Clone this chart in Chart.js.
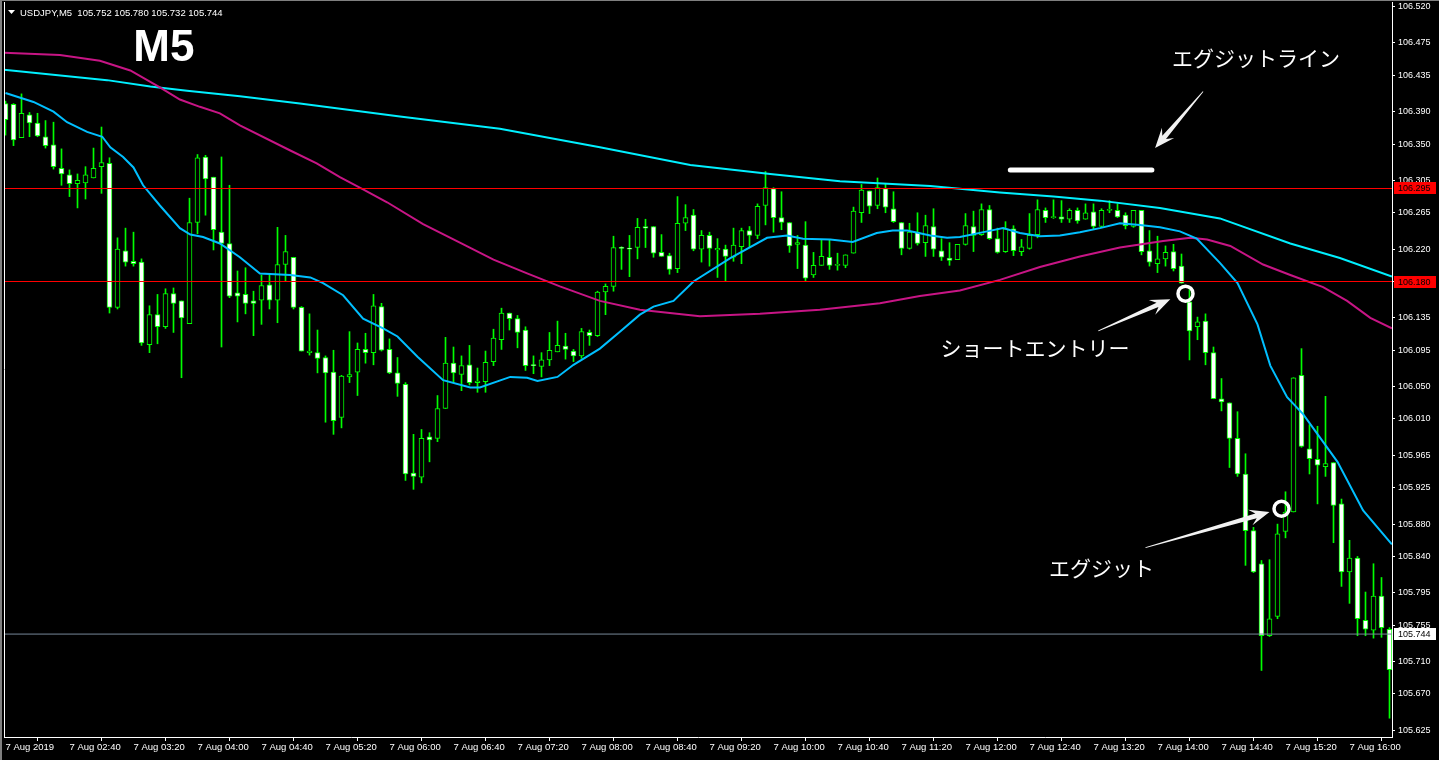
<!DOCTYPE html>
<html><head><meta charset="utf-8">
<script src="https://cdn.jsdelivr.net/npm/chart.js@4/dist/chart.umd.min.js"></script>
<style>html,body{margin:0;padding:0;background:#000;overflow:hidden}canvas{display:block}</style>
</head><body>
<canvas id="c" width="1439" height="760" style="width:1439px;height:760px"></canvas>
<script>
// ---- DATA ----
const SYMBOL_HEADER = 'USDJPY,M5  105.752 105.780 105.732 105.744';
const OPEN = [
106.400,106.399,106.358,106.386,106.376,106.359,106.349,106.320,106.312,106.301,
106.302,106.308,106.322,106.326,106.148,106.218,106.205,106.204,106.102,106.139,
106.124,106.165,106.156,106.128,106.253,106.334,106.309,106.241,106.227,106.166,
106.164,106.156,106.157,106.176,106.157,106.201,106.210,106.148,106.092,106.092,
106.086,106.068,106.012,106.062,106.068,106.096,106.092,106.149,106.096,106.067,
106.053,105.943,105.938,105.988,105.986,106.023,106.079,106.065,106.077,106.055,
106.056,106.081,106.108,106.141,106.134,106.120,106.077,106.075,106.083,106.093,
106.100,106.094,106.088,106.117,106.113,106.167,106.174,106.222,106.221,106.222,
106.248,106.248,106.216,106.212,106.196,106.252,106.262,106.220,106.237,106.219,
106.220,106.210,106.223,106.243,106.237,106.274,106.295,106.259,106.253,106.226,
106.225,106.188,106.200,106.210,106.200,106.200,106.215,106.265,106.292,106.274,
106.295,106.270,106.253,106.221,106.241,106.228,106.248,106.218,106.209,106.207,
106.226,106.248,106.238,106.269,106.233,106.217,106.245,106.217,106.221,106.238,
106.268,106.259,106.260,106.257,106.268,106.257,106.266,106.248,106.268,106.268,
106.262,106.248,106.268,106.218,106.202,106.208,106.217,106.199,106.155,106.124,
106.131,106.092,106.035,106.030,105.986,105.942,105.872,105.831,105.742,105.766,
105.871,105.895,106.064,105.973,105.960,105.951,105.956,105.905,105.821,105.838,
105.761,105.749,105.791,105.750];
const HIGH = [
106.403,106.400,106.412,106.389,106.388,106.379,106.377,106.344,106.318,106.313,
106.322,106.345,106.371,106.333,106.234,106.246,106.241,106.208,106.150,106.164,
106.171,106.172,106.156,106.283,106.337,106.336,106.309,106.334,106.299,106.193,
106.197,106.168,106.188,106.188,106.247,106.237,106.210,106.149,106.140,106.120,
106.088,106.095,106.064,106.118,106.104,106.116,106.164,106.153,106.109,106.086,
106.055,105.991,105.997,105.993,106.039,106.111,106.099,106.088,106.101,106.073,
106.094,106.121,106.147,106.141,106.138,106.124,106.088,106.092,106.117,106.131,
106.116,106.096,106.122,106.120,106.168,106.177,106.236,106.223,106.237,106.258,
106.257,106.248,106.238,106.215,106.285,106.275,106.269,106.243,106.241,106.233,
106.225,106.246,106.246,106.248,106.276,106.316,106.296,106.291,106.253,106.237,
106.254,106.216,106.232,106.232,106.215,106.213,106.272,106.300,106.292,106.308,
106.301,106.291,106.253,106.252,106.265,106.262,106.270,106.233,106.228,106.226,
106.264,106.267,106.276,106.274,106.246,106.254,106.249,106.232,106.264,106.281,
106.271,106.281,106.280,106.270,106.271,106.276,106.276,106.270,106.280,106.276,
106.265,106.268,106.268,106.243,106.236,106.224,106.226,106.214,106.170,106.136,
106.140,106.099,106.060,106.030,106.019,105.967,105.876,105.835,105.836,105.880,
105.920,106.061,106.097,106.003,106.001,106.038,105.956,105.911,105.860,105.840,
105.796,105.831,105.814,105.752];
const LOW = [
106.361,106.348,106.358,106.359,106.359,106.345,106.319,106.299,106.285,106.271,
106.282,106.308,106.289,106.141,106.146,106.199,106.199,106.101,106.092,106.103,
106.122,106.117,106.061,106.128,106.239,106.262,106.219,106.099,106.160,106.130,
106.140,106.113,106.127,106.146,106.129,106.180,106.146,106.094,106.089,106.067,
106.006,105.991,105.999,106.055,106.039,106.079,106.077,106.094,106.066,106.038,
105.934,105.923,105.931,105.957,105.982,106.023,106.055,106.045,106.052,106.043,
106.043,106.076,106.096,106.120,106.098,106.070,106.066,106.062,106.076,106.093,
106.084,106.081,106.085,106.101,106.112,106.139,106.168,106.195,106.186,106.208,
106.222,106.210,106.211,106.189,106.191,106.243,106.218,106.204,106.199,106.185,
106.180,106.205,106.202,106.222,106.233,106.250,106.241,106.244,106.216,106.196,
106.180,106.185,106.200,106.195,106.194,106.197,106.215,106.253,106.264,106.270,
106.265,106.253,106.213,106.220,106.225,106.211,106.211,106.206,106.200,106.207,
106.225,106.217,106.237,106.232,106.215,106.216,106.212,106.212,106.220,106.234,
106.253,106.258,106.253,106.253,106.252,106.257,106.245,106.247,106.265,106.259,
106.245,106.247,106.213,106.199,106.191,106.199,106.193,106.178,106.083,106.108,
106.077,106.035,106.020,105.950,105.939,105.829,105.820,105.699,105.741,105.763,
105.863,105.895,105.975,105.942,105.905,105.939,105.857,105.803,105.782,105.742,
105.742,105.739,105.740,105.640];
const CLOSE = [
106.380,106.355,106.388,106.376,106.360,106.348,106.322,106.313,106.301,106.305,
106.312,106.320,106.327,106.148,106.220,106.204,106.202,106.104,106.139,106.124,
106.165,106.153,106.135,106.253,106.333,106.307,106.244,106.227,106.162,106.162,
106.153,106.153,106.175,106.157,106.201,106.217,106.148,106.094,106.094,106.085,
106.067,106.008,106.063,106.065,106.096,106.092,106.150,106.095,106.067,106.054,
105.942,105.939,105.986,105.984,106.023,106.079,106.067,106.076,106.055,106.057,
106.080,106.110,106.141,106.134,106.117,106.076,106.076,106.083,106.095,106.101,
106.096,106.088,106.118,106.113,106.167,106.174,106.222,106.221,106.220,106.247,
106.246,106.215,106.211,106.195,106.252,106.259,106.220,106.237,106.221,106.221,
106.211,106.225,106.243,106.237,106.273,106.296,106.259,106.253,106.224,106.228,
106.184,106.200,106.211,106.200,106.200,106.213,106.267,106.293,106.273,106.296,
106.272,106.254,106.221,106.241,106.227,106.249,106.220,106.210,106.206,106.226,
106.249,106.237,106.269,106.233,106.216,106.245,106.218,106.223,106.237,106.269,
106.259,106.259,106.257,106.268,106.255,106.265,106.248,106.268,106.268,106.260,
106.249,106.268,106.217,106.204,106.208,106.216,106.196,106.178,106.119,106.130,
106.092,106.035,106.031,105.986,105.942,105.872,105.821,105.742,105.763,105.868,
105.895,106.061,105.976,105.961,105.953,105.955,105.903,105.821,105.838,105.763,
105.750,105.791,105.752,105.700];

// moving averages: bar position (index) and price
const MA_FAST_IDX = [0,3.5,6,7.7,10.2,12.1,13.1,14.7,16,17.2,19.3,21.8,23.1,24.7,26.8,29.3,31.8,35.6,38.1,39.7,42.2,44.7,47.2,49,51.5,54.7,58.1,59.3,63.1,65.2,66.5,69,71,74.3,76.8,79.3,81,83.5,86,90.6,95.2,97.7,99.7,103.1,105.9,108.9,110.9,112.7,115.6,117.7,119.3,122.7,124.7,126.8,129.3,131.8,134.3,136.8,139.3,141.8,144.3,146.8,148.9,151.8,154,156.5,158.1,160.2,162.2,166.5,169.7,173.3];
const MA_FAST_VAL = [106.413,106.402,106.390,106.377,106.365,106.359,106.346,106.334,106.321,106.299,106.274,106.246,106.238,106.235,106.227,106.210,106.190,106.188,106.185,106.178,106.163,106.134,106.122,106.112,106.087,106.058,106.049,106.049,106.062,106.061,106.057,106.062,106.077,106.097,106.118,106.139,106.149,106.156,106.180,106.209,106.234,106.237,106.233,106.232,106.229,106.240,106.243,106.243,106.237,106.234,106.235,106.242,106.246,106.240,106.236,106.237,106.241,106.246,106.252,106.250,106.247,106.242,106.233,106.203,106.178,106.127,106.076,106.037,106.016,105.957,105.897,105.855];
const MA_SLOW_IDX = [-0.2,12.7,18.1,22.7,29.3,36.8,49.3,61.8,74.3,85.6,95.6,104.3,115.6,124.3,131,136.8,144.3,151.8,160.6,166.8,173.3];
const MA_SLOW_VAL = [106.442,106.429,106.421,106.416,106.409,106.400,106.384,106.369,106.346,106.324,106.313,106.304,106.298,106.290,106.285,106.280,106.271,106.258,106.227,106.209,106.186];
const MA_MID_IDX = [-0.2,6.8,11.8,15.6,19.3,21.8,24.3,26.8,29.3,35.6,38.9,41.8,44.7,47.7,52.2,56.8,61,65.2,69.3,74.3,79.3,86.8,94.3,101.8,109.3,114.3,119.3,124.3,129.3,134.3,139.3,144.7,148.1,150.2,153.1,157.2,160.6,164.7,167.7,170.6,173.3];
const MA_MID_VAL = [106.463,106.460,106.453,106.441,106.420,106.405,106.396,106.388,106.373,106.342,106.326,106.309,106.294,106.278,106.251,106.228,106.207,106.190,106.174,106.156,106.145,106.137,106.140,106.145,106.153,106.162,106.169,106.182,106.198,106.211,106.222,106.230,106.234,106.232,106.224,106.201,106.188,106.173,106.156,106.135,106.122];

const H_LINES = [106.295, 106.180];
const BID_PRICE = 105.744;
const EXIT_LINE_IDX = [125.6, 143.3];
const EXIT_LINE_PRICE = 106.318;

const Y_TICKS = [106.520,106.475,106.435,106.390,106.350,106.305,106.265,106.220,106.180,106.135,106.095,106.050,106.010,105.965,105.925,105.880,105.840,105.795,105.755,105.710,105.670,105.625];
const X_TICK_IDX = [0,8,16,24,32,40,48,56,64,72,80,88,96,104,112,120,128,136,144,152,160,168];
const X_TICK_LABELS = ['7 Aug 2019','7 Aug 02:40','7 Aug 03:20','7 Aug 04:00','7 Aug 04:40','7 Aug 05:20','7 Aug 06:00','7 Aug 06:40','7 Aug 07:20','7 Aug 08:00','7 Aug 08:40','7 Aug 09:20','7 Aug 10:00','7 Aug 10:40','7 Aug 11:20','7 Aug 12:00','7 Aug 12:40','7 Aug 13:20','7 Aug 14:00','7 Aug 14:40','7 Aug 15:20','7 Aug 16:00'];

// annotations: [index, price]
const TEXT_LABELS = [
  {t:'エグジットライン', i:156.3, p:106.456},
  {t:'ショートエントリー', i:128.7, p:106.098},
  {t:'エグジット', i:137.0, p:105.826}
];
const ARROWS = [ // tail i, tail p, head i, head p
  [149.7,106.415,143.7,106.345],
  [136.6,106.119,145.6,106.158],
  [142.5,105.851,158.0,105.895]
];
const CIRCLES = [[147.5,106.165],[159.5,105.899]];
const TITLE = {t:'M5', i:19.8, p:106.468};

// ---- CHART ----
const idx = OPEN.map((_, i) => i);
const X_MIN = -1.5/8, X_MAX = (1392-5.5)/8;
const PX_PER_UNIT = 808.7;
const Y_MAX = 106.295 + 186.5/PX_PER_UNIT, Y_MIN = Y_MAX - 735/PX_PER_UNIT;
const GREEN = '#00ff00';

Chart.defaults.font.family = '"Liberation Sans", Arial, sans-serif';
Chart.defaults.color = '#ffffff';

const xy = (xs, ys) => xs.map((x, k) => ({x, y: ys[k]}));
const hline = (v) => [{x: X_MIN, y: v}, {x: X_MAX, y: v}];
const noPad = s => { s.paddingTop = 0; s.paddingBottom = 0; s.paddingLeft = 0; s.paddingRight = 0; };

const overlay = {
  id: 'overlay',
  afterDatasetsDraw(chart) {
    const ctx = chart.ctx, xs = chart.scales.x, ys = chart.scales.y;
    const px = i => xs.getPixelForValue(i), py = p => ys.getPixelForValue(p);
    ctx.save();
    ARROWS.forEach(a => {
      const x1 = px(a[0]), y1 = py(a[1]), x2 = px(a[2]), y2 = py(a[3]);
      const dx = x2-x1, dy = y2-y1, L = Math.hypot(dx, dy), ux = dx/L, uy = dy/L, nx = -uy, ny = ux;
      const hl = 20, hw = 8, sw = 2.4, tw = 0.4;
      const bx = x2-ux*hl, by = y2-uy*hl;
      const cx = x2-ux*(hl-6), cy = y2-uy*(hl-6);
      ctx.beginPath();
      ctx.moveTo(x1+nx*tw, y1+ny*tw);
      ctx.lineTo(cx+nx*sw, cy+ny*sw);
      ctx.lineTo(bx+nx*hw, by+ny*hw);
      ctx.lineTo(x2, y2);
      ctx.lineTo(bx-nx*hw, by-ny*hw);
      ctx.lineTo(cx-nx*sw, cy-ny*sw);
      ctx.lineTo(x1-nx*tw, y1-ny*tw);
      ctx.closePath();
      ctx.fillStyle = '#f2f2f2';
      ctx.fill();
    });
    CIRCLES.forEach(c => {
      ctx.beginPath();
      ctx.arc(px(c[0]), py(c[1]), 7.5, 0, Math.PI*2);
      ctx.lineWidth = 3.5; ctx.strokeStyle = '#ffffff'; ctx.stroke();
    });
    ctx.fillStyle = '#ffffff';
    ctx.textAlign = 'center'; ctx.textBaseline = 'middle';
    ctx.font = '21px "Noto Sans CJK JP"';
    TEXT_LABELS.forEach(l => ctx.fillText(l.t, px(l.i), py(l.p)));
    ctx.font = 'bold 44px "Liberation Sans", Arial, sans-serif';
    ctx.fillText(TITLE.t, px(TITLE.i), py(TITLE.p));
    ctx.restore();
  },
  afterDraw(chart) {
    const ctx = chart.ctx, ys = chart.scales.y, ca = chart.chartArea;
    ctx.save();
    const box = (v, bg, fg) => {
      const y = Math.round(ys.getPixelForValue(v));
      ctx.fillStyle = bg; ctx.fillRect(ca.right + 2, y - 6, 42, 12);
      ctx.fillStyle = fg; ctx.font = '9px "Liberation Sans", Arial, sans-serif';
      ctx.textAlign = 'left'; ctx.textBaseline = 'middle';
      ctx.fillText(v.toFixed(3), ca.right + 6, y + 0.5);
    };
    H_LINES.forEach(v => box(v, '#ff0000', '#000000'));
    box(BID_PRICE, '#ffffff', '#000000');
    ctx.fillStyle = '#7f7f7f'; ctx.fillRect(0, 0, 2, 760);
    ctx.fillRect(0, 0, 1439, 1);
    ctx.strokeStyle = '#ffffff'; ctx.lineWidth = 1;
    ctx.beginPath(); ctx.moveTo(ca.left + 0.5, ca.top); ctx.lineTo(ca.left + 0.5, ca.bottom); ctx.stroke();
    ctx.fillStyle = '#ffffff';
    ctx.beginPath(); ctx.moveTo(8, 10); ctx.lineTo(15, 10); ctx.lineTo(11.5, 14); ctx.closePath(); ctx.fill();
    ctx.font = '9.5px "Liberation Sans", Arial, sans-serif';
    ctx.textAlign = 'left'; ctx.textBaseline = 'middle';
    ctx.fillText(SYMBOL_HEADER, 20, 13);
    ctx.restore();
  }
};

new Chart(document.getElementById('c'), {
  data: {
    datasets: [
      { type: 'bar', order: 20, grouped: false, barThickness: 1,
        data: idx.map(i => ({x: i, y: [LOW[i], HIGH[i]]})),
        backgroundColor: GREEN, borderWidth: 0 },
      { type: 'bar', order: 19, grouped: false, barThickness: 5, minBarLength: 1,
        data: idx.map(i => ({x: i, y: [OPEN[i], CLOSE[i]]})),
        backgroundColor: idx.map(i => CLOSE[i] < OPEN[i] ? '#ffffff' : '#000000'),
        borderColor: GREEN, borderWidth: 1, borderSkipped: false },
      { type: 'line', order: 12, data: xy(MA_SLOW_IDX, MA_SLOW_VAL), borderColor: '#00f0ff', borderWidth: 2, pointRadius: 0 },
      { type: 'line', order: 11, data: xy(MA_MID_IDX, MA_MID_VAL), borderColor: '#c71585', borderWidth: 2, pointRadius: 0 },
      { type: 'line', order: 10, data: xy(MA_FAST_IDX, MA_FAST_VAL), borderColor: '#00bfff', borderWidth: 2, pointRadius: 0 },
      { type: 'line', order: 5, data: hline(H_LINES[0]), borderColor: '#ff0000', borderWidth: 1, pointRadius: 0 },
      { type: 'line', order: 5, data: hline(H_LINES[1]), borderColor: '#ff0000', borderWidth: 1, pointRadius: 0 },
      { type: 'line', order: 6, data: hline(BID_PRICE), borderColor: '#778899', borderWidth: 1, pointRadius: 0 },
      { type: 'line', order: 1, data: EXIT_LINE_IDX.map(x => ({x, y: EXIT_LINE_PRICE})), borderColor: '#ffffff', borderWidth: 5, borderCapStyle: 'round', pointRadius: 0 }
    ]
  },
  options: {
    responsive: false, animation: false, maintainAspectRatio: false,
    layout: { padding: { left: 4, top: 2, right: 0, bottom: 0 } },
    plugins: { legend: { display: false }, tooltip: { enabled: false } },
    scales: {
      x: {
        type: 'linear', min: X_MIN, max: X_MAX, offset: false,
        afterBuildTicks: s => { s.ticks = X_TICK_IDX.map(v => ({value: v})); },
        afterFit: s => { s.height = 23; noPad(s); },
        ticks: { autoSkip: false, maxRotation: 0, minRotation: 0, align: 'start', padding: 1,
          color: '#ffffff', font: { size: 9.5 },
          callback: (v, k) => X_TICK_LABELS[k] },
        grid: { drawOnChartArea: false, drawTicks: true, tickLength: 4, color: '#ffffff' },
        border: { display: true, color: '#ffffff' }
      },
      y: {
        type: 'linear', position: 'right', min: Y_MIN, max: Y_MAX,
        afterBuildTicks: s => { s.ticks = Y_TICKS.map(v => ({value: v})); },
        afterFit: s => { s.width = 47; noPad(s); },
        ticks: { autoSkip: false, padding: 3, color: '#ffffff', font: { size: 9 },
          callback: v => Number(v).toFixed(3) },
        grid: { drawOnChartArea: false, drawTicks: true, tickLength: 3, color: '#ffffff' },
        border: { display: true, color: '#ffffff' }
      }
    }
  },
  plugins: [overlay]
});
</script>
</body></html>
